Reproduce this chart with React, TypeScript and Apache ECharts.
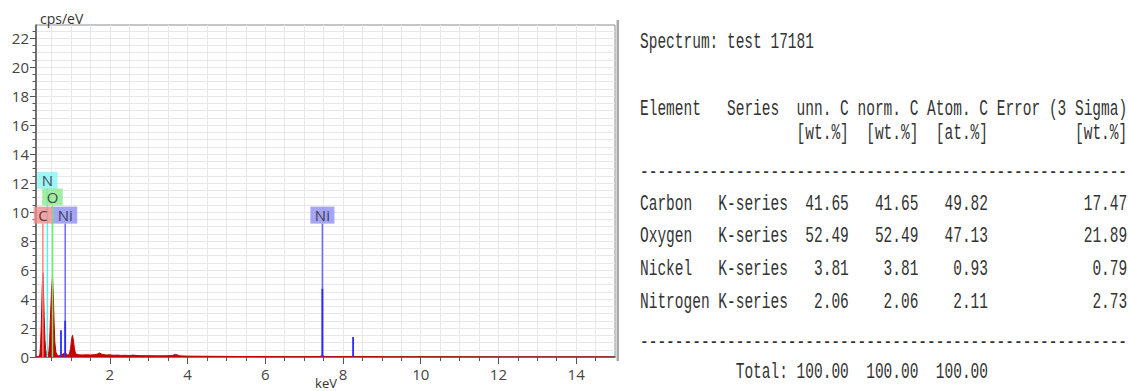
import React, { useEffect, useRef } from "react";
import * as echarts from "echarts";

// ---------- chart data ----------
const X_MIN = 0.1;
const X_MAX = 15;
const Y_MIN = 0;
const Y_MAX = 22.9;

const X_LABELS = [2, 4, 6, 8, 10, 12, 14];
const X_TICKS = [0.5, 1, 1.5, 2, 2.5, 3, 3.5, 4, 4.5, 5, 5.5, 6, 6.5, 7, 7.5, 8, 8.5, 9, 9.5, 10, 10.5, 11, 11.5, 12, 12.5, 13, 13.5, 14, 14.5];
const Y_LABELS = [0, 2, 4, 6, 8, 10, 12, 14, 16, 18, 20, 22];
const Y_TICKS = [0, 0.5, 1, 1.5, 2, 2.5, 3, 3.5, 4, 4.5, 5, 5.5, 6, 6.5, 7, 7.5, 8, 8.5, 9, 9.5, 10, 10.5, 11, 11.5, 12, 12.5, 13, 13.5, 14, 14.5, 15, 15.5, 16, 16.5, 17, 17.5, 18, 18.5, 19, 19.5, 20, 20.5, 21, 21.5, 22, 22.5];

// spectrum [keV, cps/eV]
const SPECTRUM: [number, number][] = [
  [0.1, 0.0], [0.15, 0.02], [0.18, 0.05], [0.2, 0.2], [0.22, 0.9], [0.24, 2.6], [0.26, 4.8], [0.277, 5.8],
  [0.29, 4.9], [0.31, 2.8], [0.33, 1.2], [0.35, 0.5], [0.37, 0.25], [0.39, 0.2], [0.41, 0.22], [0.43, 0.35],
  [0.45, 1.0], [0.47, 2.6], [0.5, 4.6], [0.525, 5.5], [0.545, 4.3], [0.565, 2.4], [0.585, 1.0], [0.61, 0.35],
  [0.64, 0.15], [0.68, 0.08], [0.72, 0.1], [0.76, 0.15], [0.8, 0.22], [0.85, 0.3], [0.88, 0.22], [0.92, 0.12],
  [0.96, 0.2], [0.99, 0.6], [1.02, 1.3], [1.04, 1.5], [1.06, 1.2], [1.09, 0.55], [1.12, 0.22], [1.2, 0.15],
  [1.3, 0.14], [1.4, 0.15], [1.5, 0.14], [1.6, 0.16], [1.68, 0.2], [1.74, 0.28], [1.8, 0.18], [1.9, 0.14],
  [2.0, 0.15], [2.1, 0.12], [2.2, 0.13], [2.3, 0.11], [2.4, 0.12], [2.5, 0.1], [2.6, 0.13], [2.7, 0.1],
  [2.8, 0.09], [3.0, 0.09], [3.2, 0.08], [3.4, 0.08], [3.6, 0.1], [3.69, 0.18], [3.8, 0.08], [4.0, 0.06],
  [4.5, 0.05], [5.0, 0.04], [5.5, 0.03], [6.0, 0.03], [6.5, 0.02], [7.0, 0.02], [7.4, 0.03], [7.47, 0.1],
  [7.55, 0.02], [8.0, 0.02], [8.26, 0.04], [9.0, 0.01], [10.0, 0.01], [12.0, 0.0], [15.0, 0.0],
];

// element marker lines: energy (keV) and top (cps/eV)
const MARK_NAMES = ["C", "N", "O", "Ni", "Ni"];
const MARK_ENERGY = [0.277, 0.392, 0.525, 0.851, 7.47];
const MARK_TOP = [9.2, 11.6, 10.45, 9.2, 9.2];
const MARK_LINE_COLORS = ["#ff8080", "#55f2f2", "#66ee66", "#6a6aff", "#6a6aff"];
const MARK_BOX_COLORS = ["#f08c8c", "#86f4f4", "#8ee88e", "#8f8ff2", "#8f8ff2"];

// Ni intensity lines
const NI_ENERGY = [0.743, 0.851, 7.47, 8.26];
const NI_HEIGHT = [1.85, 2.5, 4.7, 1.38];

// ---------- table data ----------
const SPECTRUM_TITLE = "Spectrum: test 17181";
const HEAD_1 = ["Element", "Series", "unn. C", "norm. C", "Atom. C", "Error (3 Sigma)"];
const HEAD_2 = ["[wt.%]", "[wt.%]", "[at.%]", "[wt.%]"];
const ELEMENTS = ["Carbon", "Oxygen", "Nickel", "Nitrogen"];
const SERIES_NAMES = ["K-series", "K-series", "K-series", "K-series"];
const UNN_C = ["41.65", "52.49", "3.81", "2.06"];
const NORM_C = ["41.65", "52.49", "3.81", "2.06"];
const ATOM_C = ["49.82", "47.13", "0.93", "2.11"];
const ERROR_3S = ["17.47", "21.89", "0.79", "2.73"];
const TOTALS = ["100.00", "100.00", "100.00"];

export default function App() {
  const ref = useRef<HTMLDivElement>(null);

  useEffect(() => {
    if (!ref.current) return;
    const chart = echarts.init(ref.current, undefined, { renderer: "svg" });

    const axisColor = "#555";
    const labelFont = { fontFamily: "Open Sans", fontSize: 15, color: "#444" };

    const series: any[] = [];
    series.push({
      type: "line",
      data: SPECTRUM,
      symbol: "none",
      z: 2,
      lineStyle: { color: "#c40000", width: 1 },
      areaStyle: { color: "#c40000", opacity: 1 },
      silent: true,
    });
    MARK_ENERGY.forEach((e, i) => {
      series.push({
        type: "line",
        data: [[e, 0], [e, MARK_TOP[i]]],
        symbol: "none",
        z: 3,
        lineStyle: { color: MARK_LINE_COLORS[i], width: 1.5 },
        silent: true,
      });
    });
    NI_ENERGY.forEach((e, i) => {
      series.push({
        type: "line",
        data: [[e, 0], [e, NI_HEIGHT[i]]],
        symbol: "none",
        z: 4,
        lineStyle: { color: "#2a2aff", width: 1.8 },
        silent: true,
      });
    });
    series.push({
      type: "scatter",
      symbolSize: 0,
      z: 6,
      silent: true,
      data: MARK_ENERGY.map((e, i) => ({
        value: [e, MARK_TOP[i]],
        label: {
          show: true,
          position: "top",
          distance: 0,
          formatter: MARK_NAMES[i],
          backgroundColor: MARK_BOX_COLORS[i],
          padding: [1, 4.5, 1, 4.5],
          color: "#222",
          fontFamily: "Open Sans",
          fontSize: 15,
          lineHeight: 15,
        },
      })),
    });

    // table texts
    const x0 = 640;
    const cw = 8.7;
    const fs = 22;
    const sx = cw / (fs * 0.6);
    const txt = (s: string, col: number, y: number, align: "left" | "right" = "left") => ({
      type: "text",
      x: x0 + col * cw,
      y,
      scaleX: sx,
      silent: true,
      style: {
        text: s,
        fill: "#333",
        fontFamily: "Liberation Mono",
        fontSize: fs,
        align,
        verticalAlign: "middle",
      },
    });
    const tableEls: any[] = [];
    tableEls.push(txt(SPECTRUM_TITLE, 0, 42));
    const h1Cols = [0, 10, 18, 25, 33, 41];
    HEAD_1.forEach((h, i) => tableEls.push(txt(h, h1Cols[i], 109)));
    const h2Cols = [18, 26, 34, 50];
    HEAD_2.forEach((h, i) => tableEls.push(txt(h, h2Cols[i], 133)));
    const dashes = "--------------------------------------------------------";
    tableEls.push(txt(dashes, 0, 172));
    const rowY = [204, 236.5, 269, 302];
    ELEMENTS.forEach((el, i) => {
      const y = rowY[i];
      tableEls.push(txt(el, 0, y));
      tableEls.push(txt(SERIES_NAMES[i], 9, y));
      tableEls.push(txt(UNN_C[i], 24, y, "right"));
      tableEls.push(txt(NORM_C[i], 32, y, "right"));
      tableEls.push(txt(ATOM_C[i], 40, y, "right"));
      tableEls.push(txt(ERROR_3S[i], 56, y, "right"));
    });
    tableEls.push(txt(dashes, 0, 342));
    tableEls.push(txt("Total:", 11, 372));
    const totCols = [24, 32, 40];
    TOTALS.forEach((t, i) => tableEls.push(txt(t, totCols[i], 372, "right")));

    const option: any = {
      animation: false,
      backgroundColor: "#ffffff",
      grid: {
        left: 36,
        top: 25,
        width: 579,
        height: 332,
        show: true,
        borderColor: "#8c8c8c",
        borderWidth: 1,
        backgroundColor: "transparent",
      },
      xAxis: [
        {
          type: "value",
          min: X_MIN,
          max: X_MAX,
          position: "bottom",
          axisLine: { show: true, onZero: false, lineStyle: { color: axisColor, width: 1.5 } },
          axisTick: { show: true, customValues: X_TICKS, length: 4, lineStyle: { color: axisColor } },
          axisLabel: { show: true, customValues: X_LABELS, margin: 9, ...labelFont },
          splitLine: { show: true, lineStyle: { color: "#e8e8e8", width: 1 } },
        },
        {
          type: "value",
          min: X_MIN,
          max: X_MAX,
          position: "bottom",
          axisLine: { show: false },
          axisTick: { show: true, customValues: X_LABELS, length: 7, lineStyle: { color: axisColor } },
          axisLabel: { show: false },
          splitLine: { show: false },
        },
      ],
      yAxis: [
        {
          type: "value",
          min: Y_MIN,
          max: Y_MAX,
          position: "left",
          axisLine: { show: true, onZero: false, lineStyle: { color: axisColor, width: 1.5 } },
          axisTick: { show: true, customValues: Y_TICKS, length: 3.5, lineStyle: { color: axisColor } },
          axisLabel: { show: true, customValues: Y_LABELS, margin: 7, ...labelFont },
          splitLine: { show: true, lineStyle: { color: "#e8e8e8", width: 1 } },
        },
        {
          type: "value",
          min: Y_MIN,
          max: Y_MAX,
          position: "left",
          axisLine: { show: false },
          axisTick: { show: true, customValues: Y_LABELS, length: 6, lineStyle: { color: axisColor } },
          axisLabel: { show: false },
          splitLine: { show: false },
        },
      ],
      series,
      graphic: {
        elements: [
          {
            type: "text",
            x: 40,
            y: 18,
            silent: true,
            style: { text: "cps/eV", fill: "#333", fontFamily: "Open Sans", fontSize: 14, verticalAlign: "middle" },
          },
          {
            type: "text",
            x: 326,
            y: 383,
            silent: true,
            style: { text: "keV", fill: "#333", fontFamily: "Open Sans", fontSize: 13, align: "center", verticalAlign: "middle" },
          },
          {
            type: "line",
            silent: true,
            shape: { x1: 617.8, y1: 20, x2: 617.8, y2: 361 },
            style: { stroke: "#a8a8a8", lineWidth: 2.5 },
          },
          ...tableEls,
        ],
      },
    };

    chart.setOption(option);
    return () => chart.dispose();
  }, []);

  return (
    <div
      ref={ref}
      style={{ position: "absolute", left: 0, top: 0, width: 1128, height: 391, background: "#fff" }}
    />
  );
}
